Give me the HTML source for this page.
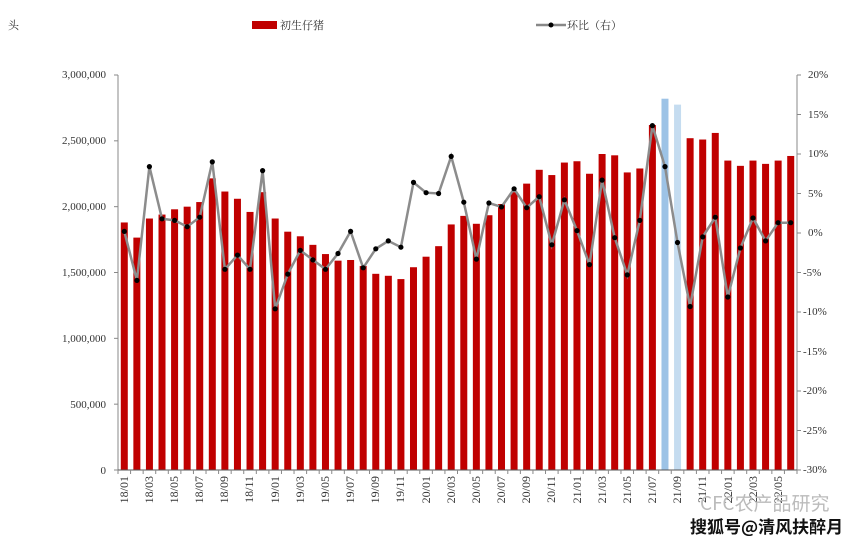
<!DOCTYPE html>
<html><head><meta charset="utf-8"><style>
body{margin:0;background:#fff;width:865px;height:543px;overflow:hidden}
svg text{font-family:"Liberation Serif","Noto Serif CJK SC",serif;font-size:11px;fill:#333}
#xl text{font-size:12px}
</style></head><body>
<svg id="s" width="865" height="543" xmlns="http://www.w3.org/2000/svg">
<text x="8" y="29" style="font-family:'Noto Serif CJK SC',serif;font-size:11px">头</text>
<rect x="252" y="21" width="25" height="8" fill="#c00000"/>
<text x="280" y="29" style="font-family:'Noto Serif CJK SC',serif;font-size:11px">初生仔猪</text>
<line x1="536" y1="25" x2="566" y2="25" stroke="#888" stroke-width="2.5"/>
<circle cx="551" cy="25" r="2.5" fill="#000"/>
<text x="567" y="29" style="font-family:'Noto Serif CJK SC',serif;font-size:11px">环比（右）</text>
<g text-anchor="end">
<text x="106" y="78">3,000,000</text>
<text x="106" y="144">2,500,000</text>
<text x="106" y="210">2,000,000</text>
<text x="106" y="276">1,500,000</text>
<text x="106" y="342">1,000,000</text>
<text x="106" y="408">500,000</text>
<text x="106" y="474">0</text>
</g>
<g text-anchor="start">
<text x="808" y="78">20%</text>
<text x="808" y="118">15%</text>
<text x="808" y="157">10%</text>
<text x="808" y="197">5%</text>
<text x="808" y="236">0%</text>
<text x="803" y="276">-5%</text>
<text x="803" y="315">-10%</text>
<text x="803" y="355">-15%</text>
<text x="803" y="394">-20%</text>
<text x="803" y="434">-25%</text>
<text x="803" y="473">-30%</text>
</g>
<g id="bars"></g>
<line x1="118" y1="75" x2="118" y2="470" stroke="#888"/>
<line x1="797" y1="75" x2="797" y2="470" stroke="#888"/>
<line x1="118" y1="470" x2="797" y2="470" stroke="#555"/>
<g id="ticks" stroke="#888"></g>
<g id="line"></g>
<g id="xl">
<text transform="translate(128,476) rotate(-90)" text-anchor="end">18/01</text>
<text transform="translate(153,476) rotate(-90)" text-anchor="end">18/03</text>
<text transform="translate(178,476) rotate(-90)" text-anchor="end">18/05</text>
<text transform="translate(203,476) rotate(-90)" text-anchor="end">18/07</text>
<text transform="translate(228,476) rotate(-90)" text-anchor="end">18/09</text>
<text transform="translate(253,476) rotate(-90)" text-anchor="end">18/11</text>
<text transform="translate(279,476) rotate(-90)" text-anchor="end">19/01</text>
<text transform="translate(304,476) rotate(-90)" text-anchor="end">19/03</text>
<text transform="translate(329,476) rotate(-90)" text-anchor="end">19/05</text>
<text transform="translate(354,476) rotate(-90)" text-anchor="end">19/07</text>
<text transform="translate(379,476) rotate(-90)" text-anchor="end">19/09</text>
<text transform="translate(404,476) rotate(-90)" text-anchor="end">19/11</text>
<text transform="translate(430,476) rotate(-90)" text-anchor="end">20/01</text>
<text transform="translate(455,476) rotate(-90)" text-anchor="end">20/03</text>
<text transform="translate(480,476) rotate(-90)" text-anchor="end">20/05</text>
<text transform="translate(505,476) rotate(-90)" text-anchor="end">20/07</text>
<text transform="translate(530,476) rotate(-90)" text-anchor="end">20/09</text>
<text transform="translate(555,476) rotate(-90)" text-anchor="end">20/11</text>
<text transform="translate(581,476) rotate(-90)" text-anchor="end">21/01</text>
<text transform="translate(606,476) rotate(-90)" text-anchor="end">21/03</text>
<text transform="translate(631,476) rotate(-90)" text-anchor="end">21/05</text>
<text transform="translate(656,476) rotate(-90)" text-anchor="end">21/07</text>
<text transform="translate(681,476) rotate(-90)" text-anchor="end">21/09</text>
<text transform="translate(706,476) rotate(-90)" text-anchor="end">21/11</text>
<text transform="translate(732,476) rotate(-90)" text-anchor="end">22/01</text>
<text transform="translate(757,476) rotate(-90)" text-anchor="end">22/03</text>
<text transform="translate(782,476) rotate(-90)" text-anchor="end">22/05</text>
</g>
<text x="700" y="510" style="font-family:'Noto Sans CJK SC',sans-serif;font-size:19px;fill:#bbb">CFC农产品研究</text>
<text x="690" y="533" style="font-family:'Noto Sans CJK SC',sans-serif;font-size:17px;font-weight:bold;fill:#111">搜狐号@清风扶醉月</text>
</svg>
<script>
var v=[1880,1765,1910,1940,1980,2000,2035,2215,2115,2060,1960,2110,1910,1810,1775,1710,1640,1590,1595,1550,1490,1475,1450,1540,1620,1700,1865,1930,1870,1935,2020,2110,2175,2280,2240,2335,2345,2250,2400,2390,2260,2290,2620,2820,2775,2520,2510,2560,2350,2310,2350,2325,2350,2385];
var p=[0.2,-6,8.4,1.8,1.6,0.8,2,9,-4.6,-2.8,-4.6,7.9,-9.6,-5.2,-2.2,-3.4,-4.6,-2.6,0.2,-4.4,-2,-1,-1.8,6.4,5.1,5,9.7,3.9,-3.3,3.8,3.3,5.6,3.2,4.6,-1.5,4.2,0.3,-4,6.7,-0.6,-5.3,1.6,13.6,8.4,-1.2,-9.3,-0.5,2,-8.1,-1.9,1.9,-1,1.3,1.3];
var ns="http://www.w3.org/2000/svg",b=document.getElementById('bars'),L=document.getElementById('line'),T=document.getElementById('ticks');
var step=679/54,pts=[];
function el(t,a,par){var e=document.createElementNS(ns,t);for(var k in a)e.setAttribute(k,a[k]);par.appendChild(e);return e;}
for(var i=0;i<54;i++){var cx=118+step*(i+0.5);var y=470-v[i]*395/3000;
var c=i==43?'#9dc3e6':i==44?'#c5dcf0':'#c00000';
el('rect',{x:cx-3.5,y:y,width:7,height:470-y,fill:c},b);
pts.push(cx.toFixed(1)+','+(233-p[i]*7.9).toFixed(1));}
for(var j=0;j<=54;j++){var x=118+step*j;el('line',{x1:x,y1:470,x2:x,y2:474},T);}
for(var k=0;k<=6;k++){var y=75+k*395/6;el('line',{x1:114,y1:y,x2:118,y2:y},T);}
for(var k=0;k<=10;k++){var y=75+k*39.5;el('line',{x1:797,y1:y,x2:801,y2:y},T);}
el('polyline',{points:pts.join(' '),fill:'none',stroke:'#8c8c8c','stroke-width':2.5},L);
pts.forEach(function(q){var a=q.split(',');el('circle',{cx:a[0],cy:a[1],r:2.6,fill:'#000'},L);});
</script>
</body></html>
